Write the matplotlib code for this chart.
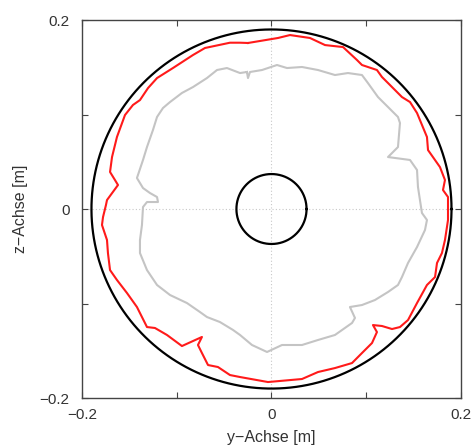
import numpy as np
import matplotlib
matplotlib.use("Agg")
from matplotlib import pyplot as plt

# Konturen (y, z) in Metern
red_y = [-0.0248, -0.0332, -0.0438, -0.0702, -0.0828, -0.1040, -0.1208, -0.1303, -0.1388, -0.1462,
         -0.1546, -0.1631, -0.1683, -0.1704, -0.1652, -0.1620, -0.1736, -0.1747, -0.1778, -0.1789,
         -0.1736, -0.1726, -0.1704, -0.1631, -0.1525, -0.1420, -0.1314, -0.1230, -0.1103, -0.0945,
         -0.0734, -0.0776, -0.0734, -0.0670, -0.0565, -0.0438, -0.0332, -0.0037, 0.0322, 0.0491,
         0.0670, 0.0850, 0.0955, 0.1061, 0.1113, 0.1071, 0.1166, 0.1272, 0.1356, 0.1441,
         0.1536, 0.1641, 0.1726, 0.1747, 0.1799, 0.1831, 0.1852, 0.1863, 0.1863, 0.1810,
         0.1831, 0.1778, 0.1652, 0.1641, 0.1536, 0.1462, 0.1377, 0.1230, 0.1166, 0.1113,
         0.0955, 0.0902, 0.0755, 0.0565, 0.0406, 0.0195, 0.0069]
red_z = [0.1757, 0.1760, 0.1760, 0.1704, 0.1630, 0.1492, 0.1386, 0.1280, 0.1153, 0.1101,
         0.0995, 0.0762, 0.0550, 0.0392, 0.0307, 0.0254, 0.0095, 0.0042, -0.0085, -0.0169,
         -0.0328, -0.0466, -0.0646, -0.0751, -0.0889, -0.1037, -0.1249, -0.1259, -0.1333, -0.1450,
         -0.1354, -0.1439, -0.1524, -0.1651, -0.1672, -0.1757, -0.1778, -0.1831, -0.1799, -0.1725,
         -0.1683, -0.1630, -0.1524, -0.1418, -0.1302, -0.1228, -0.1238, -0.1270, -0.1249, -0.1175,
         -0.0995, -0.0804, -0.0720, -0.0571, -0.0466, -0.0328, -0.0190, -0.0116, 0.0127, 0.0201,
         0.0307, 0.0444, 0.0624, 0.0762, 0.1016, 0.1132, 0.1185, 0.1333, 0.1397, 0.1471,
         0.1524, 0.1577, 0.1714, 0.1735, 0.1810, 0.1841, 0.1810]

gray_y = [-0.0259, -0.0332, -0.0470, -0.0575, -0.0681, -0.0828, -0.0945, -0.1071, -0.1145, -0.1208,
          -0.1251, -0.1314, -0.1356, -0.1420, -0.1356, -0.1282, -0.1208, -0.1198, -0.1314, -0.1356,
          -0.1367, -0.1388, -0.1388, -0.1314, -0.1208, -0.1071, -0.0892, -0.0755, -0.0681, -0.0544,
          -0.0406, -0.0332, -0.0206, -0.0047, 0.0111, 0.0322, 0.0491, 0.0670, 0.0850, 0.0881,
          0.0828, 0.0955, 0.1092, 0.1230, 0.1335, 0.1377, 0.1441, 0.1536, 0.1620, 0.1641,
          0.1588, 0.1567, 0.1546, 0.1536, 0.1462, 0.1230, 0.1335, 0.1356, 0.1335, 0.1230,
          0.1124, 0.1018, 0.0955, 0.0807, 0.0670, 0.0491, 0.0322, 0.0164, 0.0058, -0.0100,
          -0.0227, -0.0248]
gray_z = [0.1450, 0.1439, 0.1492, 0.1471, 0.1386, 0.1291, 0.1228, 0.1132, 0.1069, 0.0974,
          0.0836, 0.0656, 0.0519, 0.0328, 0.0222, 0.0169, 0.0127, 0.0074, 0.0074, 0.0021,
          -0.0169, -0.0328, -0.0466, -0.0646, -0.0804, -0.0910, -0.0995, -0.1090, -0.1143, -0.1196,
          -0.1280, -0.1333, -0.1439, -0.1513, -0.1439, -0.1439, -0.1386, -0.1333, -0.1206, -0.1153,
          -0.1037, -0.1016, -0.0963, -0.0878, -0.0804, -0.0720, -0.0571, -0.0402, -0.0222, -0.0116,
          -0.0042, 0.0095, 0.0233, 0.0413, 0.0519, 0.0550, 0.0656, 0.0910, 0.0974, 0.1079,
          0.1185, 0.1333, 0.1418, 0.1439, 0.1418, 0.1471, 0.1503, 0.1492, 0.1524, 0.1471,
          0.1450, 0.1386]

r_outer = 0.19
r_inner = 0.037

ticks = [-0.2, -0.1, 0, 0.1, 0.2]
tick_labels = ["\u22120.2", "", "0", "", "0.2"]

plt.rcParams['font.family'] = ['Liberation Sans', 'DejaVu Sans']

fig = plt.figure(figsize=(4.75, 4.45), dpi=100)
ax = fig.add_axes([0.1726, 0.1056, 0.7979, 0.8494])

ax.axhline(0, color='#c8c8c8', lw=0.8, ls=(0, (1, 2)), zorder=0)
ax.axvline(0, color='#c8c8c8', lw=0.8, ls=(0, (1, 2)), zorder=0)

t = np.linspace(0, 2 * np.pi, 400)
ax.plot(r_outer * np.cos(t), r_outer * np.sin(t), color='black', lw=1.6)
ax.plot(r_inner * np.cos(t), r_inner * np.sin(t), color='black', lw=1.6)

ax.plot(red_y + red_y[:1], red_z + red_z[:1], color='#ff1a1a', lw=1.5)
ax.plot(gray_y + gray_y[:1], gray_z + gray_z[:1], color='#c4c4c4', lw=1.5)

ax.set_xlim(-0.2, 0.2)
ax.set_ylim(-0.2, 0.2)
ax.set_xticks(ticks)
ax.set_xticklabels(tick_labels)
ax.set_yticks(ticks)
ax.set_yticklabels(tick_labels)
ax.tick_params(direction='in', length=4, width=0.8, color='#444444',
               top=True, right=True, labelsize=11, labelcolor='#333333')
ax.tick_params(axis='x', pad=7)
ax.tick_params(axis='y', pad=9)

for s in ax.spines.values():
    s.set_color('#444444')
    s.set_linewidth(1.0)

ax.set_xlabel("y\u2212Achse [m]", fontsize=11.5, color='#333333', labelpad=6)
ax.set_ylabel("z\u2212Achse [m]", fontsize=11.5, color='#333333', labelpad=8)

fig.savefig("out.png", dpi=100)
